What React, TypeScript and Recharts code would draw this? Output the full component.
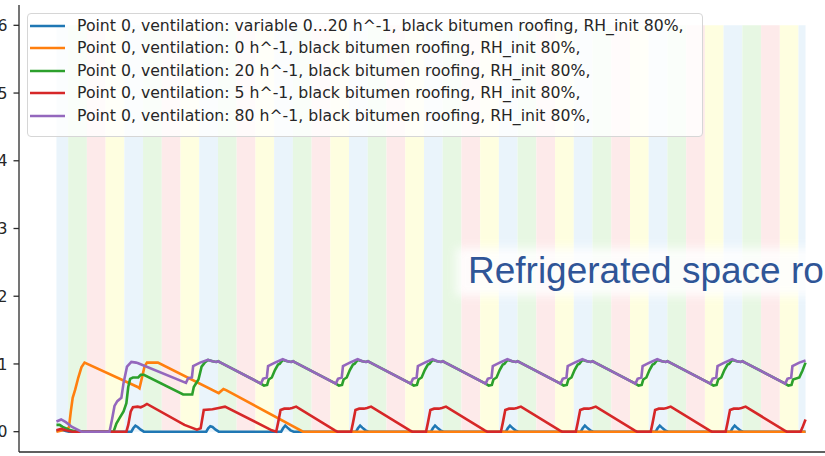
import React from 'react';
import { LineChart, Line, XAxis, YAxis, ReferenceArea, Legend } from 'recharts';

type Pt = [number, number];

// time axis in hours (10 days), ticks at each day
const X_TICKS = [24, 48, 72, 96, 120, 144, 168, 192, 216, 240];
const Y_TICKS = [0, 1, 2, 3, 4, 5, 6];

// background band edges (hours); bands cycle blue, green, red, yellow
const BAND_EDGES = [
  0, 3.75, 9.75, 15.75, 21.75, 27.75, 33.75, 39.75, 45.75, 51.75, 57.75, 63.75, 69.75,
  75.75, 81.75, 87.75, 93.75, 99.75, 105.75, 111.75, 117.75, 123.75, 129.75, 135.75,
  141.75, 147.75, 153.75, 159.75, 165.75, 171.75, 177.75, 183.75, 189.75, 195.75,
  201.75, 207.75, 213.75, 219.75, 225.75, 231.75, 237.75, 240,
];
const BAND_TOP = 6;
const BAND_COLORS = ['#eaf4fb', '#e7f7e3', '#fdeaea', '#fefee0'];

const VENT_VARIABLE: Pt[] = [
  [0, 0.01], [1.5, 0.03], [3, 0.01], [4, 0],
  [24, 0], [24.6, 0.05], [25.3, 0.09], [26, 0.07], [27, 0.03], [28, 0],
  [48, 0], [48.6, 0.05], [49.3, 0.08], [50, 0.07], [51, 0.03], [52, 0],
  [72, 0], [72.6, 0.05], [73.3, 0.09], [74, 0.06], [75, 0.02], [76, 0],
  [96, 0], [96.6, 0.05], [97.3, 0.09], [98, 0.06], [99, 0.02], [100, 0],
  [120, 0], [120.6, 0.05], [121.3, 0.09], [122, 0.06], [123, 0.02], [124, 0],
  [144, 0], [144.6, 0.05], [145.3, 0.09], [146, 0.06], [147, 0.02], [148, 0],
  [168, 0], [168.6, 0.05], [169.3, 0.09], [170, 0.06], [171, 0.02], [172, 0],
  [192, 0], [192.6, 0.05], [193.3, 0.09], [194, 0.06], [195, 0.02], [196, 0],
  [216, 0], [216.6, 0.05], [217.3, 0.09], [218, 0.06], [219, 0.02], [220, 0],
  [240, 0],
];

const VENT_0: Pt[] = [
  [0, 0], [3, 0.03], [4, 0.06], [4.6, 0.3], [5.2, 0.5], [6, 0.62], [7, 0.8], [8, 0.95],
  [9, 1.02], [26, 0.66], [26.6, 0.64], [27.3, 0.78], [28.2, 0.96], [29, 1.02], [32.5, 1.02],
  [52, 0.57], [53.5, 0.63], [54.5, 0.61], [79, 0], [240, 0],
];

const VENT_20: Pt[] = [
  [0, 0.1], [1, 0.1], [2, 0.07], [4, 0.03], [6.5, 0], [18.3, 0], [19.2, 0.12], [20.2, 0.2],
  [21.5, 0.3], [22.4, 0.42], [23, 0.66], [23.6, 0.78], [24.5, 0.8], [26.2, 0.8], [27, 0.84],
  [28, 0.84], [40.6, 0.55], [43.5, 0.55], [44, 0.66], [45.5, 0.77], [46.5, 0.96], [47.5, 1.02],
  [48.6, 1.06], [50, 1.04], [51.2, 1.03], [51.8, 1.04], [52.6, 1.02],
  [65.5, 0.71], [66.5, 0.68], [67.5, 0.69], [68, 0.77], [69, 0.8], [70, 0.91], [71, 0.99], [71.5, 1.0],
  [72.5, 1.06], [74, 1.04], [75.2, 1.03], [75.8, 1.04], [76.6, 1.02],
  [89.5, 0.71], [90.5, 0.68], [91.5, 0.69], [92, 0.77], [93, 0.8], [94, 0.91], [95, 0.99], [95.5, 1.0],
  [96.5, 1.06], [98, 1.04], [99.2, 1.03], [99.8, 1.04], [100.6, 1.02],
  [113.5, 0.71], [114.5, 0.68], [115.5, 0.69], [116, 0.77], [117, 0.8], [118, 0.91], [119, 0.99], [119.5, 1.0],
  [120.5, 1.06], [122, 1.04], [123.2, 1.03], [123.8, 1.04], [124.6, 1.02],
  [137.5, 0.71], [138.5, 0.68], [139.5, 0.69], [140, 0.77], [141, 0.8], [142, 0.91], [143, 0.99], [143.5, 1.0],
  [144.5, 1.06], [146, 1.04], [147.2, 1.03], [147.8, 1.04], [148.6, 1.02],
  [161.5, 0.71], [162.5, 0.68], [163.5, 0.69], [164, 0.77], [165, 0.8], [166, 0.91], [167, 0.99], [167.5, 1.0],
  [168.5, 1.06], [170, 1.04], [171.2, 1.03], [171.8, 1.04], [172.6, 1.02],
  [185.5, 0.71], [186.5, 0.68], [187.5, 0.69], [188, 0.77], [189, 0.8], [190, 0.91], [191, 0.99], [191.5, 1.0],
  [192.5, 1.06], [194, 1.04], [195.2, 1.03], [195.8, 1.04], [196.6, 1.02],
  [209.5, 0.71], [210.5, 0.68], [211.5, 0.69], [212, 0.77], [213, 0.8], [214, 0.91], [215, 0.99], [215.5, 1.0],
  [216.5, 1.06], [218, 1.04], [219.2, 1.03], [219.8, 1.04], [220.6, 1.02],
  [233.5, 0.71], [234.5, 0.68], [235.5, 0.69], [236, 0.77], [238, 0.8], [239, 0.9], [240, 1.02],
];

const VENT_5: Pt[] = [
  [0, 0.02], [1.5, 0.04], [3, 0.02], [5, 0], [22.4, 0], [23, 0.1], [23.8, 0.3], [24.5, 0.36],
  [26, 0.37], [27, 0.36], [28, 0.38], [29, 0.41], [41, 0.1], [45, 0.03], [46.2, 0.05],
  [47.2, 0.32], [50, 0.33], [52, 0.35], [54, 0.37], [69, 0.02], [70.4, 0],
  [71, 0.13], [71.8, 0.32], [73, 0.34], [74.5, 0.34], [75.5, 0.35], [76.8, 0.37], [89.2, 0.02], [90, 0], [94.4, 0],
  [95, 0.13], [95.8, 0.32], [97, 0.34], [98.5, 0.34], [99.5, 0.35], [100.8, 0.37], [113.2, 0.02], [114, 0], [118.4, 0],
  [119, 0.13], [119.8, 0.32], [121, 0.34], [122.5, 0.34], [123.5, 0.35], [124.8, 0.37], [137.2, 0.02], [138, 0], [142.4, 0],
  [143, 0.13], [143.8, 0.32], [145, 0.34], [146.5, 0.34], [147.5, 0.35], [148.8, 0.37], [161.2, 0.02], [162, 0], [166.4, 0],
  [167, 0.13], [167.8, 0.32], [169, 0.34], [170.5, 0.34], [171.5, 0.35], [172.8, 0.37], [185.2, 0.02], [186, 0], [190.4, 0],
  [191, 0.13], [191.8, 0.32], [193, 0.34], [194.5, 0.34], [195.5, 0.35], [196.8, 0.37], [209.2, 0.02], [210, 0], [214.4, 0],
  [215, 0.13], [215.8, 0.32], [217, 0.34], [218.5, 0.34], [219.5, 0.35], [220.8, 0.37], [233.2, 0.02], [234, 0], [238.4, 0],
  [239, 0.06], [240, 0.18],
];

const VENT_80: Pt[] = [
  [0, 0.15], [1.5, 0.18], [3, 0.14], [5, 0.07], [8, 0], [17, 0], [17.8, 0.18], [18.6, 0.38],
  [19.5, 0.45], [20.8, 0.5], [21.5, 0.72], [22.6, 0.96], [24, 1.03], [25.5, 1.02], [26.2, 1.01],
  [41.5, 0.72], [42.2, 0.79], [43.4, 0.8], [43.8, 0.97], [46, 1.02], [48.5, 1.06], [50, 1.04], [51.2, 1.03], [51.8, 1.04], [52.6, 1.02],
  [65.5, 0.71], [66.2, 0.78], [67.4, 0.8], [67.8, 0.97], [70, 1.02], [72.5, 1.07], [74, 1.04], [75.2, 1.03], [75.8, 1.04], [76.6, 1.02],
  [89.5, 0.71], [90.2, 0.78], [91.4, 0.8], [91.8, 0.97], [94, 1.02], [96.5, 1.07], [98, 1.04], [99.2, 1.03], [99.8, 1.04], [100.6, 1.02],
  [113.5, 0.71], [114.2, 0.78], [115.4, 0.8], [115.8, 0.97], [118, 1.02], [120.5, 1.07], [122, 1.04], [123.2, 1.03], [123.8, 1.04], [124.6, 1.02],
  [137.5, 0.71], [138.2, 0.78], [139.4, 0.8], [139.8, 0.97], [142, 1.02], [144.5, 1.07], [146, 1.04], [147.2, 1.03], [147.8, 1.04], [148.6, 1.02],
  [161.5, 0.71], [162.2, 0.78], [163.4, 0.8], [163.8, 0.97], [166, 1.02], [168.5, 1.07], [170, 1.04], [171.2, 1.03], [171.8, 1.04], [172.6, 1.02],
  [185.5, 0.71], [186.2, 0.78], [187.4, 0.8], [187.8, 0.97], [190, 1.02], [192.5, 1.07], [194, 1.04], [195.2, 1.03], [195.8, 1.04], [196.6, 1.02],
  [209.5, 0.71], [210.2, 0.78], [211.4, 0.8], [211.8, 0.97], [214, 1.02], [216.5, 1.07], [218, 1.04], [219.2, 1.03], [219.8, 1.04], [220.6, 1.02],
  [233.5, 0.71], [234.2, 0.78], [235.4, 0.8], [235.8, 0.97], [238, 1.02], [240, 1.05],
];

const SERIES = [
  { name: 'Point 0, ventilation: variable 0...20 h^-1, black bitumen roofing, RH_init 80%,', color: '#1f77b4', points: VENT_VARIABLE },
  { name: 'Point 0, ventilation: 0 h^-1, black bitumen roofing, RH_init 80%,', color: '#ff7f0e', points: VENT_0 },
  { name: 'Point 0, ventilation: 20 h^-1, black bitumen roofing, RH_init 80%,', color: '#2ca02c', points: VENT_20 },
  { name: 'Point 0, ventilation: 5 h^-1, black bitumen roofing, RH_init 80%,', color: '#d62728', points: VENT_5 },
  { name: 'Point 0, ventilation: 80 h^-1, black bitumen roofing, RH_init 80%,', color: '#9467bd', points: VENT_80 },
];

const OVERLAY_TEXT = 'Refrigerated space ro';

const toRows = (pts: Pt[]) => pts.map(([t, v]) => ({ t, v }));

const FONT = '"DejaVu Sans", sans-serif';
const SPINE = '#2b2b2b';
const ROW_TOPS = [1, 23, 46, 68, 91];

const LegendBox = () => (
  <div
    style={{
      width: 676,
      height: 124,
      boxSizing: 'border-box',
      background: 'rgba(255,255,255,0.8)',
      border: '1px solid #d6d6d6',
      borderRadius: 4,
      position: 'relative',
      fontFamily: FONT,
      fontSize: 15.7,
      color: '#262626',
    }}
  >
    {SERIES.map((s, i) => (
      <div key={i} style={{ position: 'absolute', left: 0, top: ROW_TOPS[i], height: 22, width: '100%' }}>
        <svg width={40} height={22} style={{ position: 'absolute', left: 0, top: 0 }}>
          <line x1={2} x2={37} y1={11} y2={11} stroke={s.color} strokeWidth={2.6} />
        </svg>
        <div style={{ position: 'absolute', left: 49, top: 0, lineHeight: '22px', whiteSpace: 'nowrap' }}>{s.name}</div>
      </div>
    ))}
  </div>
);

export default function App() {
  const bands = BAND_EDGES.slice(0, -1).map((x1, i) => ({ x1, x2: BAND_EDGES[i + 1], fill: BAND_COLORS[i % 4] }));
  return (
    <div style={{ position: 'fixed', left: 0, top: 0, width: 825, height: 456, overflow: 'hidden', background: '#fff' }}>
      <LineChart width={843} height={456} margin={{ top: 5, right: 0, bottom: 0, left: 0 }}>
        <XAxis
          dataKey="t"
          type="number"
          domain={[-12, 252]}
          ticks={X_TICKS}
          allowDataOverflow
          height={4}
          tick={false}
          tickSize={6}
          tickLine={{ stroke: SPINE, strokeWidth: 1.3 }}
          axisLine={{ stroke: SPINE, strokeWidth: 1.3 }}
        />
        <XAxis
          xAxisId="top"
          orientation="top"
          dataKey="t"
          type="number"
          domain={[-12, 252]}
          allowDataOverflow
          height={0}
          tick={false}
          tickLine={false}
          axisLine={{ stroke: SPINE, strokeWidth: 1.3 }}
        />
        <YAxis
          type="number"
          domain={[-0.3, 6.3]}
          ticks={Y_TICKS}
          allowDataOverflow
          width={19}
          tickSize={5.5}
          tickMargin={6}
          tick={{ fontFamily: FONT, fontSize: 15.7, fill: '#262626' }}
          tickLine={{ stroke: SPINE, strokeWidth: 1.3 }}
          axisLine={{ stroke: SPINE, strokeWidth: 1.3 }}
        />
        {bands.map((b, i) => (
          <ReferenceArea key={i} x1={b.x1} x2={b.x2} y1={0} y2={BAND_TOP} fill={b.fill} fillOpacity={1} stroke="none" />
        ))}
        {SERIES.map((s) => (
          <Line
            key={s.name}
            data={toRows(s.points)}
            dataKey="v"
            name={s.name}
            type="linear"
            stroke={s.color}
            strokeWidth={2.6}
            dot={false}
            activeDot={false}
            isAnimationActive={false}
          />
        ))}
        <Legend
          layout="vertical"
          align="center"
          verticalAlign="middle"
          wrapperStyle={{ left: 27, top: 13, width: 676, height: 124 }}
          content={() => <LegendBox />}
        />
      </LineChart>
      <svg width={825} height={456} style={{ position: 'absolute', left: 0, top: 0, pointerEvents: 'none' }}>
        <defs>
          <filter id="halo" x="-20%" y="-60%" width="140%" height="220%">
            <feGaussianBlur stdDeviation="5" />
          </filter>
        </defs>
        <rect x={456} y={248} width={400} height={48} fill="#ffffff" opacity={0.85} filter="url(#halo)" />
        <text x={468} y={283} fontFamily="'Liberation Sans', Arial, sans-serif" fontSize={37} fill="#2f5597">
          {OVERLAY_TEXT}
        </text>
      </svg>
    </div>
  );
}
